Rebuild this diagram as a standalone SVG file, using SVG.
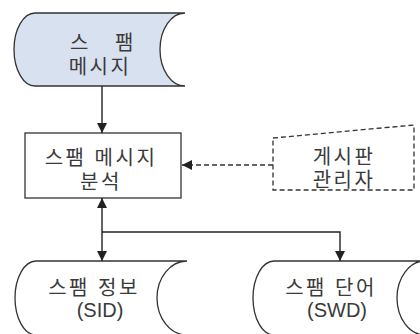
<svg xmlns="http://www.w3.org/2000/svg" width="420" height="334" viewBox="0 0 420 334">
<defs>
<marker id="ah" viewBox="0 0 10 10" refX="10" refY="5" markerWidth="10" markerHeight="10" markerUnits="userSpaceOnUse" orient="auto">
<path d="M0,0 L10,5 L0,10 Z" fill="#222"/>
</marker>
</defs>
<style>
.sh{stroke:#333;stroke-width:1.3;fill:#fff}
.blue{fill:#d8e1ef}
.dash{stroke:#333;stroke-width:1.3;fill:#fff;stroke-dasharray:5,3}
.ln{stroke:#222;stroke-width:1.4;fill:none}
.dl{stroke:#333;stroke-width:1.4;fill:none;stroke-dasharray:5,3}
text{font-family:"Liberation Sans","Noto Sans CJK KR",sans-serif;font-size:20px;fill:#3a3a3a;text-anchor:middle;letter-spacing:2.5px}
.lat{font-size:20px;letter-spacing:0}
</style>
<rect width="420" height="334" fill="#fff"/>
<g id="spam-message">
<path class="sh blue" d="M35,13 L185,13 A25,36.5 0 0 0 185,86 L35,86 A21,36.5 0 0 1 35,13 Z"/>
<text x="103" y="50" word-spacing="16">스 팸</text>
<text x="100" y="74">메시지</text>
</g>
<g id="analysis">
<rect class="sh" x="25" y="133" width="156" height="65"/>
<text x="101" y="165">스팸 메시지</text>
<text x="101" y="189">분석</text>
</g>
<g id="board-admin">
<path class="dash" d="M273,138 L414,125 L414,190 L273,190 Z"/>
<text x="344" y="164">게시판</text>
<text x="344" y="187">관리자</text>
</g>
<g id="spam-info">
<path class="sh" d="M36,261 L187,261 A30,37 0 0 0 187,335 L36,335 A21,37 0 0 1 36,261 Z"/>
<text x="94" y="295">스팸 정보</text>
<text class="lat" x="100" y="317">(SID)</text>
</g>
<g id="spam-word">
<path class="sh" d="M274,261 L425,261 A28,37 0 0 0 425,335 L274,335 A21,37 0 0 1 274,261 Z"/>
<text x="331" y="295">스팸 단어</text>
<text class="lat" x="337" y="317">(SWD)</text>
</g>
<g id="connectors">
<line class="ln" x1="102" y1="86" x2="102" y2="133" marker-end="url(#ah)"/>
<line class="dl" x1="273" y1="165" x2="182" y2="165" marker-end="url(#ah)"/>
<line class="ln" x1="102" y1="232" x2="102" y2="198" marker-end="url(#ah)"/>
<polyline class="ln" points="102,232 340,232 340,261" marker-end="url(#ah)"/>
<line class="ln" x1="102" y1="232" x2="102" y2="261" marker-end="url(#ah)"/>
</g>
</svg>
